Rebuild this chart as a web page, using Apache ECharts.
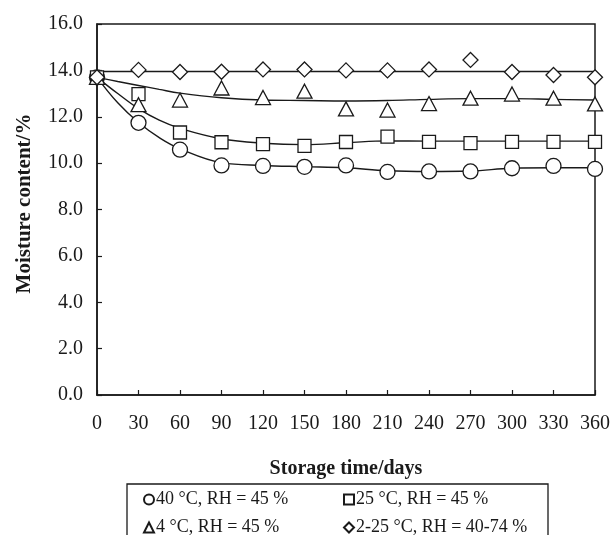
<!DOCTYPE html>
<html>
<head>
<meta charset="utf-8">
<script src="https://cdn.jsdelivr.net/npm/echarts@6/dist/echarts.min.js"></script>
<style>html,body{margin:0;padding:0;background:#fff}#c{width:613px;height:535px}</style>
</head>
<body>
<div id="c"></div>
<script>
var days = [0, 30, 60, 90, 120, 150, 180, 210, 240, 270, 300, 330, 360];
var yTicks = ['0.0','2.0','4.0','6.0','8.0','10.0','12.0','14.0','16.0'];
var names = ['40 °C, RH = 45 %', '25 °C, RH = 45 %', '4 °C, RH = 45 %', '2-25 °C, RH = 40-74 %'];

var circle   = [13.7, 11.74, 10.58, 9.90, 9.88, 9.84, 9.90, 9.62, 9.64, 9.64, 9.78, 9.88, 9.75];
var square   = [13.7, 12.98, 11.32, 10.90, 10.82, 10.74, 10.91, 11.14, 10.92, 10.86, 10.92, 10.92, 10.92];
var triangle = [13.7, 12.52, 12.72, 13.24, 12.83, 13.10, 12.34, 12.29, 12.57, 12.80, 12.98, 12.80, 12.55];
var diamond  = [13.7, 14.02, 13.93, 13.94, 14.04, 14.04, 14.00, 14.00, 14.04, 14.45, 13.93, 13.80, 13.70];

var fitDays      = [0, 15, 30, 45, 60, 90, 120, 150, 180, 210, 240, 270, 300, 330, 360];
var circleFit    = [13.7, 12.6, 11.75, 11.1, 10.62, 10.02, 9.9, 9.85, 9.8, 9.67, 9.64, 9.66, 9.78, 9.8, 9.8];
var squareFit    = [13.7, 13.0, 12.35, 11.85, 11.5, 11.05, 10.86, 10.8, 10.88, 10.96, 10.95, 10.95, 10.95, 10.95, 10.95];
var triangleFit  = [13.7, 13.52, 13.35, 13.18, 13.02, 12.82, 12.72, 12.7, 12.68, 12.7, 12.75, 12.78, 12.78, 12.75, 12.72];
var diamondFit   = [13.95, 13.95, 13.95, 13.95, 13.95, 13.95, 13.95, 13.95, 13.95, 13.95, 13.95, 13.95, 13.95, 13.95, 13.95];

function pairs(xs, ys) { return xs.map(function (x, i) { return [x, ys[i]]; }); }

var FONT = '"Liberation Serif", "Times New Roman", serif';
var INK = '#1a1a1a';

function markSeries(name, symbol, size, vals) {
  return {
    name: name, type: 'scatter', symbol: symbol, symbolSize: size,
    data: pairs(days, vals), z: 5,
    itemStyle: { color: '#fff', borderColor: INK, borderWidth: 1.3, opacity: 1 },
    emphasis: { disabled: true }
  };
}
function fitSeries(vals) {
  return {
    type: 'line', smooth: 0.4, showSymbol: false, symbol: 'none',
    data: pairs(fitDays, vals), z: 3, silent: true,
    lineStyle: { color: INK, width: 1.4 }
  };
}

var chart = echarts.init(document.getElementById('c'), null, { renderer: 'canvas' });
chart.setOption({
  animation: false,
  backgroundColor: '#fff',
  textStyle: { fontFamily: FONT, color: INK },
  grid: { left: 97, right: 16, top: 24, bottom: 140, show: true, borderColor: INK, borderWidth: 1.5 },
  xAxis: {
    type: 'value', min: 0, max: 360, interval: 30,
    name: 'Storage time/days', nameLocation: 'middle', nameGap: 64,
    nameTextStyle: { fontFamily: FONT, fontWeight: 'bold', fontSize: 20, color: INK },
    axisLine: { lineStyle: { color: INK, width: 1.5 } },
    axisTick: { inside: true, length: 5, lineStyle: { color: INK, width: 1.2 } },
    axisLabel: { fontFamily: FONT, fontSize: 20, color: INK, margin: 19 },
    splitLine: { show: false }
  },
  yAxis: {
    type: 'value', min: 0, max: 16, interval: 2,
    name: 'Moisture content/%', nameLocation: 'middle', nameGap: 62, nameRotate: 90,
    nameTextStyle: { fontFamily: FONT, fontWeight: 'bold', fontSize: 21, color: INK, padding: [0, 0, 0, 12] },
    axisLine: { lineStyle: { color: INK, width: 1.5 } },
    axisTick: { inside: true, length: 5, lineStyle: { color: INK, width: 1.2 } },
    axisLabel: { fontFamily: FONT, fontSize: 20, color: INK, margin: 14,
      formatter: function (v) { return yTicks[Math.round(v / 2)]; } },
    splitLine: { show: false }
  },
  legend: {
    left: 138, top: 485, width: 420, orient: 'horizontal',
    itemWidth: 10, itemHeight: 10, itemGap: 9,
    data: [
      { name: names[0], icon: 'circle' },
      { name: names[1], icon: 'rect' },
      { name: names[2], icon: 'triangle' },
      { name: names[3], icon: 'diamond' }
    ],
    textStyle: { fontFamily: FONT, fontSize: 18, color: INK, width: 178, lineHeight: 19, padding: [0, 0, 0, -3] },
    selectedMode: false
  },
  graphic: [{
    type: 'rect', shape: { x: 127, y: 484, width: 421, height: 70 },
    style: { fill: 'none', stroke: INK, lineWidth: 1.3 }, silent: true
  }],
  series: [
    fitSeries(circleFit), fitSeries(squareFit), fitSeries(triangleFit), fitSeries(diamondFit),
    markSeries(names[0], 'circle', 15, circle),
    markSeries(names[1], 'rect', 13, square),
    markSeries(names[2], 'triangle', [15, 14], triangle),
    markSeries(names[3], 'diamond', [15, 15], diamond)
  ]
});
</script>
</body>
</html>
